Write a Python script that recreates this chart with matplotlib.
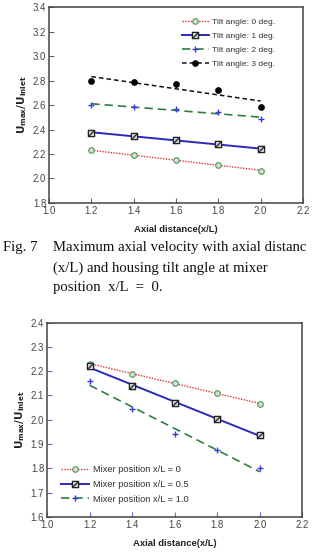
import numpy as np
import matplotlib
matplotlib.use("Agg")
import matplotlib.pyplot as plt
from matplotlib.path import Path

plt.rcParams['font.family'] = ['Liberation Sans', 'DejaVu Sans']

x = [1.2, 1.4, 1.6, 1.8, 2.0]

tilt_labels = ["Tilt angle: 0 deg.", "Tilt angle: 1 deg.", "Tilt angle: 2 deg.", "Tilt angle: 3 deg."]
tilt0 = [2.23, 2.19, 2.15, 2.11, 2.065]
tilt1 = [2.375, 2.345, 2.315, 2.28, 2.24]
tilt2 = [2.60, 2.585, 2.57, 2.54, 2.485]
tilt3 = [2.80, 2.79, 2.77, 2.72, 2.585]

mix_labels = ["Mixer position x/L = 0", "Mixer position x/L = 0.5", "Mixer position x/L = 1.0"]
mix0 = [2.23, 2.19, 2.15, 2.11, 2.065]
mix05 = [2.22, 2.14, 2.07, 2.003, 1.937]
mix10 = [2.16, 2.045, 1.94, 1.875, 1.80]

xticks = [1.0, 1.2, 1.4, 1.6, 1.8, 2.0, 2.2]
top_yticks = [1.8, 2.0, 2.2, 2.4, 2.6, 2.8, 3.0, 3.2, 3.4]
bot_yticks = [1.6, 1.7, 1.8, 1.9, 2.0, 2.1, 2.2, 2.3, 2.4]

caption_fig = "Fig. 7"
caption = ["Maximum axial velocity with axial distanc",
           "(x/L) and housing tilt angle at mixer",
           "position  x/L  =  0."]

sq_diag = Path([(-1, -1), (1, -1), (1, 1), (-1, 1), (-1, -1), (-1, -1), (1, 1)],
               [Path.MOVETO, Path.LINETO, Path.LINETO, Path.LINETO, Path.CLOSEPOLY,
                Path.MOVETO, Path.LINETO])

styles = [
    dict(color="#e03030", ls=(0, (1, 1)), lw=1.0, marker="o", mfc="#dddddd", mec="#4a9a4a", ms=4),
    dict(color="#2a2ab8", ls="-", lw=1.4, marker=sq_diag, mfc="#cccccc", mec="#222222", ms=4.5, mew=0.9),
    dict(color="#2f7f3f", ls=(0, (5, 3)), lw=1.2, marker="+", mfc="none", mec="#3a3ae0", ms=5, mew=1.0),
    dict(color="#111111", ls=(0, (3, 2)), lw=1.1, marker="o", mfc="#000000", mec="#000000", ms=4),
]

fig = plt.figure(figsize=(3.13, 5.53), dpi=100)

def plot_series(ax, ys, st, label):
    xa = np.array(x)
    p = np.polyfit(xa, np.array(ys), 1)
    ax.plot(xa, np.polyval(p, xa), color=st['color'], ls=st['ls'], lw=st['lw'], zorder=2)
    ax.plot(xa, ys, ls="none", marker=st['marker'], mfc=st['mfc'], mec=st['mec'],
            ms=st['ms'], mew=st.get('mew', 0.8), zorder=3)
    ax.plot([], [], color=st['color'], ls=st['ls'], lw=st['lw'], marker=st['marker'],
            mfc=st['mfc'], mec=st['mec'], ms=st['ms'], mew=st.get('mew', 0.8), label=label)

def style_axes(ax, yticks, tickcolor):
    ax.set_xlim(1.0, 2.2)
    ax.set_ylim(yticks[0], yticks[-1])
    ax.set_xticks(xticks)
    ax.set_yticks(yticks)
    ax.set_xticklabels([f"{v:.1f}" for v in xticks])
    ax.set_yticklabels([f"{v:.1f}" for v in yticks])
    ax.tick_params(direction="in", length=3.5, width=0.8, color=tickcolor,
                   labelsize=6.9, labelcolor="#444444", pad=2)
    for s in ax.spines.values():
        s.set_color("#444444")
        s.set_linewidth(1.1)
    ax.set_xlabel("Axial distance(x/L)", fontsize=6.8, fontweight="bold", color="#222222", labelpad=7)
    ax.set_ylabel(r"$\mathbf{U_{max}/U_{inlet}}$", fontsize=7.5, color="#222222", labelpad=3)

ax1 = fig.add_axes([0.1565, 0.633, 0.8115, 0.354])
for ys, st, lab in zip([tilt0, tilt1, tilt2, tilt3], styles, tilt_labels):
    plot_series(ax1, ys, st, lab)
style_axes(ax1, top_yticks, "#666666")
leg1 = ax1.legend(loc="upper right", frameon=False, fontsize=6.1, handlelength=3.2,
                  handletextpad=0.4, labelspacing=0.7, borderaxespad=0,
                  bbox_to_anchor=(0.905, 0.96))
for t in leg1.get_texts():
    t.set_color("#333333")

ax2 = fig.add_axes([0.150, 0.0651, 0.816, 0.3517])
for ys, st, lab in zip([mix0, mix05, mix10], styles[:3], mix_labels):
    plot_series(ax2, ys, st, lab)
style_axes(ax2, bot_yticks, "#6a6ad0")
leg2 = ax2.legend(loc="lower left", frameon=False, fontsize=6.7, handlelength=3.0,
                  handletextpad=0.4, labelspacing=0.6, borderaxespad=0,
                  bbox_to_anchor=(0.04, 0.05))
for t in leg2.get_texts():
    t.set_color("#333333")

cap_y = [248, 268, 287]
fig.text(3 / 313, 1 - cap_y[0] / 553, caption_fig, family="Liberation Serif", fontsize=10.6,
         va="center", ha="left", color="#111111")
for i, line in enumerate(caption):
    fig.text(53 / 313, 1 - cap_y[i] / 553, line, family="Liberation Serif", fontsize=10.6,
             va="center", ha="left", color="#111111")

fig.savefig("out.png", dpi=100)
